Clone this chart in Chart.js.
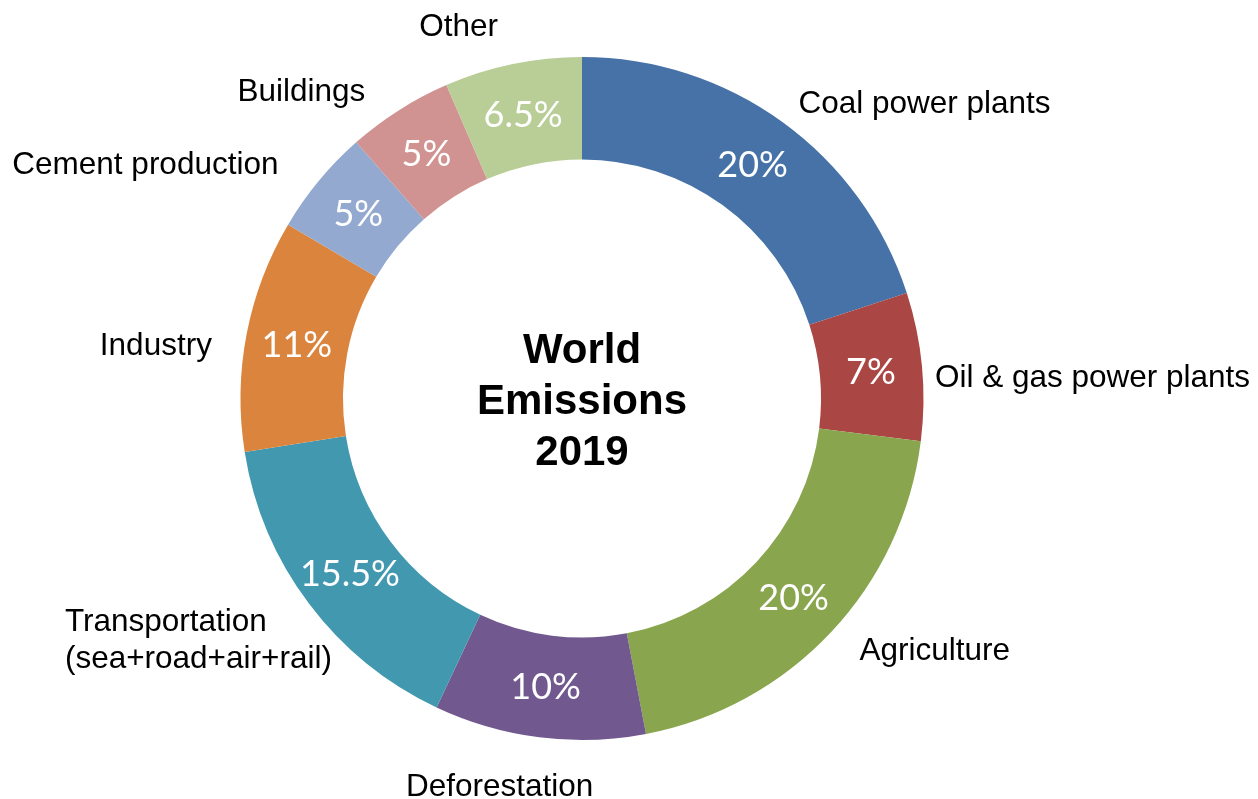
<!DOCTYPE html>
<html>
<head>
<meta charset="utf-8">
<title>World Emissions 2019</title>
<script src="https://cdn.jsdelivr.net/npm/chart.js@4.4.1/dist/chart.umd.min.js"></script>
<style>
  html, body { margin: 0; padding: 0; background: #ffffff; }
  #wrap { position: relative; width: 1258px; height: 799px; }
</style>
</head>
<body>
<div id="wrap"><canvas id="chart"></canvas></div>
<script>
// Sources of world emissions, share in percent
const categories = [
  'Coal power plants',
  'Oil & gas power plants',
  'Agriculture',
  'Deforestation',
  ['Transportation', '(sea+road+air+rail)'],
  'Industry',
  'Cement production',
  'Buildings',
  'Other'
];
const shares = [20, 7, 20, 10, 15.5, 11, 5, 5, 6.5];
const sliceColors = [
  '#4672A7', '#AA4643', '#89A54E', '#71588F', '#4198AF',
  '#DB843D', '#93A9CF', '#D19392', '#B9CD96'
];
const centerTitle = ['World', 'Emissions', '2019'];

// Fine adjustment of each outer category label relative to its slice
const labelNudge = [
  [4, 7], [-7, 11], [14, -9], [-37, 16], [39, -7],
  [-15, 13], [-25, 6], [-23, 8], [-50, -9]
];

const labelFont = 31.5;
const pctFont = 36;

const ringLabels = {
  id: 'ringLabels',
  afterDatasetsDraw(chart) {
    const ctx = chart.ctx;
    const meta = chart.getDatasetMeta(0);
    const values = chart.data.datasets[0].data;
    ctx.save();
    meta.data.forEach((arc, i) => {
      const p = arc.getProps(['x', 'y', 'startAngle', 'endAngle', 'innerRadius', 'outerRadius'], true);
      const mid = (p.startAngle + p.endAngle) / 2;
      const ux = Math.cos(mid), uy = Math.sin(mid);

      // value inside the ring, at the slice centroid
      const rm = (p.innerRadius + p.outerRadius) / 2;
      ctx.fillStyle = '#ffffff';
      ctx.font = pctFont + 'px Lato, "Open Sans", sans-serif';
      ctx.textAlign = 'center';
      ctx.textBaseline = 'alphabetic';
      ctx.fillText(values[i] + '%', p.x + rm * ux, p.y + rm * uy + pctFont * 0.36);

      // category name outside the ring
      const ro = p.outerRadius + 20;
      const ax = p.x + ro * ux + labelNudge[i][0];
      const ay = p.y + ro * uy + labelNudge[i][1];
      const lines = [].concat(chart.data.labels[i]);
      ctx.fillStyle = '#000000';
      ctx.font = labelFont + 'px "Liberation Sans", Arial, sans-serif';
      const capH = labelFont * 0.716;
      const lineH = 37;
      const widths = lines.map(t => ctx.measureText(t).width);
      const boxW = Math.max(...widths);
      const boxH = capH + (lines.length - 1) * lineH;
      let left;
      if (ux > 0.3) left = ax;
      else if (ux < -0.3) left = ax - boxW;
      else left = ax - boxW / 2;
      let top;
      if (uy < -0.3) top = ay - boxH;
      else if (uy > 0.3) top = ay;
      else top = ay - boxH / 2;
      ctx.textAlign = 'left';
      lines.forEach((t, k) => {
        const lx = lines.length > 1 ? left : left + (boxW - widths[k]) / 2;
        ctx.fillText(t, lx, top + capH + k * lineH);
      });
    });

    // title in the hole
    const cx = meta.data[0].x, cy = meta.data[0].y;
    ctx.fillStyle = '#000000';
    ctx.font = 'bold 42px "Liberation Sans", Arial, sans-serif';
    ctx.textAlign = 'center';
    ctx.textBaseline = 'alphabetic';
    const tCap = 42 * 0.716;
    const tLine = 51;
    centerTitle.forEach((t, k) => {
      ctx.fillText(t, cx, cy + tCap / 2 + (k - 1) * tLine);
    });
    ctx.restore();
  }
};

new Chart(document.getElementById('chart'), {
  type: 'doughnut',
  data: {
    labels: categories,
    datasets: [{
      data: shares,
      backgroundColor: sliceColors,
      borderWidth: 0
    }]
  },
  options: {
    responsive: true,
    maintainAspectRatio: false,
    animation: false,
    cutout: '70%',
    rotation: 0,
    layout: { padding: { top: 57, bottom: 59, left: 240, right: 334 } },
    plugins: {
      legend: { display: false },
      tooltip: { enabled: false }
    }
  },
  plugins: [ringLabels]
});
</script>
</body>
</html>
